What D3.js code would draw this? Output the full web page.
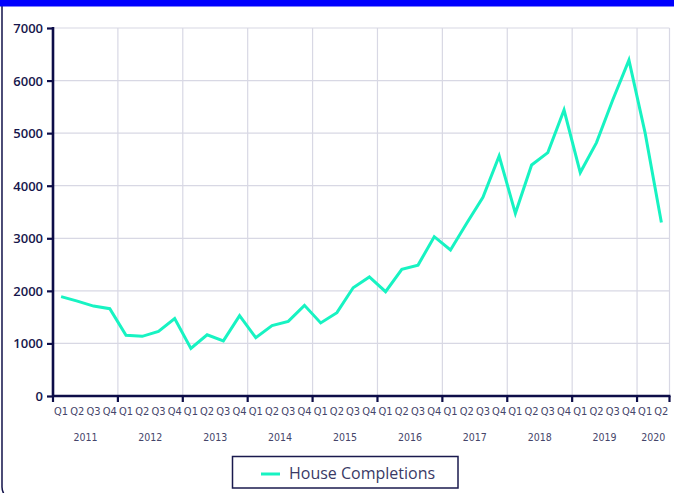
<!DOCTYPE html>
<html><head><meta charset="utf-8">
<script src="https://cdn.jsdelivr.net/npm/d3@7"></script>
<style>
html,body{margin:0;padding:0;background:#fff;}
svg{display:block;}
</style></head>
<body>
<svg id="chart" width="674" height="493"></svg>
<script>
const years = ["2011","2012","2013","2014","2015","2016","2017","2018","2019","2020"];
const quarters = ["Q1","Q2","Q3","Q4"];
const completions = [
  1890,1805,1710,1660,
  1155,1135,1230,1475,
  905,1165,1050,1530,
  1110,1340,1420,1725,
  1390,1585,2060,2265,
  1985,2410,2490,3030,
  2777,3285,3780,4565,
  3475,4395,4630,5440,
  4250,4820,5630,6390,
  5000,3300
];
const yTicks = [0,1000,2000,3000,4000,5000,6000,7000];
const seriesName = "House Completions";

const data = completions.map((v,i)=>({key: years[Math.floor(i/4)]+"-"+quarters[i%4], q: quarters[i%4], year: years[Math.floor(i/4)], v}));

const svg = d3.select("#chart");
const W = 674, H = 493;
const x0 = 53, x1 = 669.5, yTop = 28, yBot = 396;

// frame
svg.append("rect").attr("x",2).attr("y",-12).attr("width",W+20).attr("height",512)
  .attr("rx",13).attr("fill","none").attr("stroke","#12124a").attr("stroke-width",1.5);
svg.append("rect").attr("x",0).attr("y",0).attr("width",W).attr("height",6.5).attr("fill","#0000fe");

const x = d3.scaleBand().domain(data.map(d=>d.key)).range([x0,x1]).padding(0);
const y = d3.scaleLinear().domain([0,7000]).range([yBot,yTop]);

// grid
const g = svg.append("g");
g.selectAll("line.h").data(yTicks.filter(t=>t>0)).join("line")
  .attr("x1",x0).attr("x2",x1).attr("y1",d=>y(d)).attr("y2",d=>y(d))
  .attr("stroke","#d8d8e4").attr("stroke-width",1.2);
const yearBounds = years.slice(1).map(yr=>x(yr+"-Q1")).concat([x1]);
g.selectAll("line.v").data(yearBounds).join("line")
  .attr("x1",d=>d).attr("x2",d=>d).attr("y1",yTop).attr("y2",yBot)
  .attr("stroke","#d8d8e4").attr("stroke-width",1.2);

// line
const line = d3.line().x(d=>x(d.key)+x.bandwidth()/2).y(d=>y(d.v));
svg.append("path").datum(data).attr("d",line).attr("fill","none")
  .attr("stroke","#17f3c2").attr("stroke-width",3).attr("stroke-linejoin","miter");

// y axis
const yAxis = d3.axisLeft(y).tickValues(yTicks).tickSize(6).tickPadding(4).tickFormat(d3.format("d"));
const ya = svg.append("g").attr("transform",`translate(${x0},0)`).call(yAxis);
ya.select(".domain").attr("stroke","#0d0d48").attr("stroke-width",2.6).attr("d",`M0,${yTop-1}V${yBot}`);
ya.selectAll(".tick line").attr("stroke","#0d0d48").attr("stroke-width",2.2);
ya.selectAll(".tick text").attr("fill","#16164c").attr("font-family","'Open Sans',sans-serif")
  .attr("font-size",13).attr("font-weight",600).attr("dy","0.35em");

// x axis
const xa = svg.append("g").attr("transform",`translate(0,${yBot})`);
xa.append("line").attr("x1",x0).attr("x2",x1+1).attr("y1",0).attr("y2",0)
  .attr("stroke","#0d0d48").attr("stroke-width",2.6);
xa.selectAll("line.t").data([x0].concat(yearBounds)).join("line")
  .attr("x1",d=>d).attr("x2",d=>d).attr("y1",0).attr("y2",6)
  .attr("stroke","#0d0d48").attr("stroke-width",2.2);
const labFont = "'Liberation Sans Narrow','DejaVu Sans Condensed','Roboto Condensed',sans-serif";
xa.selectAll("text.q").data(data).join("text")
  .attr("x",d=>x(d.key)+x.bandwidth()/2).attr("y",19)
  .attr("text-anchor","middle").attr("font-family",labFont).attr("font-size",11)
  .attr("fill","#45456a").text(d=>d.q);
xa.selectAll("text.yr").data(years).join("text")
  .attr("x",yr=>{const qs=data.filter(d=>d.year===yr); const a=x(qs[0].key), b=x(qs[qs.length-1].key)+x.bandwidth(); return (a+b)/2;})
  .attr("y",45).attr("text-anchor","middle").attr("font-family",labFont).attr("font-size",10.5)
  .attr("fill","#45456a").text(d=>d);

// legend
const lg = svg.append("g");
lg.append("rect").attr("x",232.5).attr("y",456.5).attr("width",225.5).attr("height",31.5)
  .attr("fill","#fff").attr("stroke","#1a1a4e").attr("stroke-width",1.5);
lg.append("line").attr("x1",261).attr("x2",280).attr("y1",474).attr("y2",474)
  .attr("stroke","#17f3c2").attr("stroke-width",3);
lg.append("text").attr("x",289).attr("y",478.5).attr("font-family","'Open Sans',sans-serif")
  .attr("font-size",16).attr("fill","#3a3a66").text(seriesName);
</script>
</body></html>
